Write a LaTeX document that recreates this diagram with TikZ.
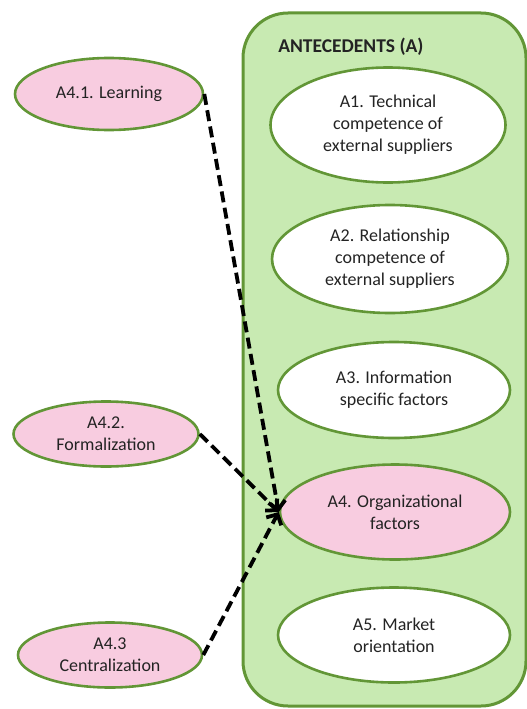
\documentclass[tikz,border=0pt]{standalone}
\usepackage{fontspec}
\setmainfont{Carlito}
\usetikzlibrary{shapes.geometric,arrows.meta,positioning}
\definecolor{boxgreen}{RGB}{200,234,178}
\definecolor{linegreen}{RGB}{98,150,54}
\definecolor{pinkfill}{RGB}{248,204,224}
\definecolor{txt}{RGB}{35,35,35}

\begin{document}
\begin{tikzpicture}[x=1pt, y=-1pt]
	\tikzstyle{every node} = [ellipse, draw = linegreen, line width = 2.6pt, inner sep = 0pt, align = center, text = txt, font = \fontsize{18}{22}\selectfont]
	\tikzstyle{pinknode} = [fill = pinkfill]
	\tikzstyle{whitenode} = [fill = white]
	\tikzstyle{dasharrow} = [draw = black, line width = 3.8pt, dash pattern = on 11pt off 5.5pt, -{Straight Barb[length = 8pt, width = 17pt]}]
\useasboundingbox (0, 0) rectangle (527, 709);
\draw[draw = linegreen, fill = boxgreen, line width = 3pt, rounded corners = 45pt] (243, 13) rectangle (526, 706);
\node[draw = none, rectangle, anchor = west, font = \fontsize{19.5}{22}\selectfont\bfseries] (title) at (277, 47) {ANTECEDENTS (A)};

\node[whitenode, minimum width = 235pt, minimum height = 115pt] (a1) at (388, 125) {A1. Technical\\competence of\\external suppliers};
\node[whitenode, minimum width = 236pt, minimum height = 108pt] (a2) at (390, 259) {A2. Relationship\\competence of\\external suppliers};
\node[whitenode, minimum width = 232pt, minimum height = 96pt] (a3) at (394, 390) {A3. Information\\specific factors};
\node[pinknode, minimum width = 230pt, minimum height = 95pt] (a4) at (395, 512) {A4. Organizational\\factors};
\node[whitenode, minimum width = 232pt, minimum height = 95pt] (a5) at (394, 635) {A5. Market\\orientation};

\node[pinknode, minimum width = 188pt, minimum height = 72pt] (a41) at (109, 94) {A4.1. Learning};
\node[pinknode, minimum width = 185pt, minimum height = 65pt] (a42) at (106, 434) {A4.2.\\Formalization};
\node[pinknode, minimum width = 184pt, minimum height = 65pt] (a43) at (110, 655) {A4.3\\Centralization};

	\path[dasharrow] (a41.east) -- (a4.west);
	\path[dasharrow] (a42.east) -- (a4.west);
	\path[dasharrow] (a43.east) -- (a4.west);
\end{tikzpicture}
\end{document}
